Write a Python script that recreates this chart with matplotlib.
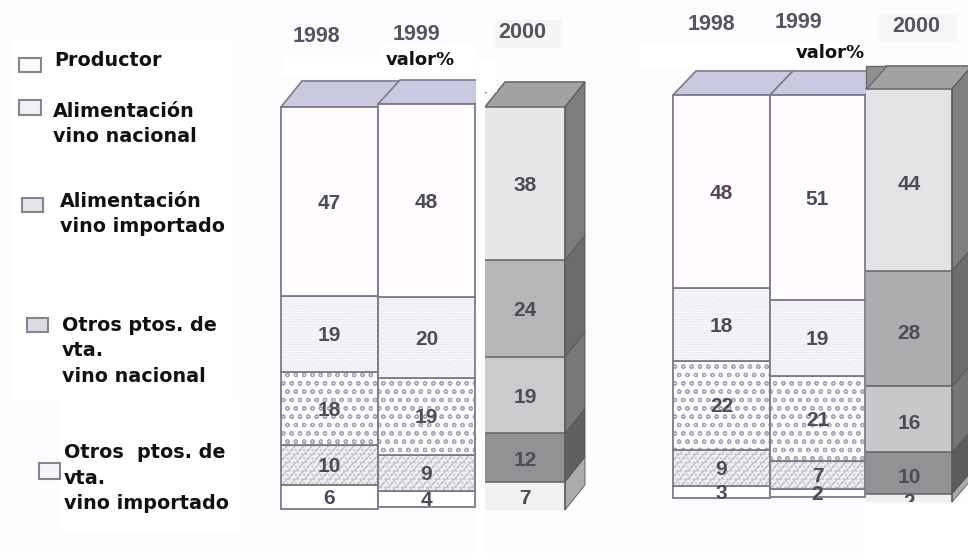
import matplotlib
matplotlib.use("Agg")
import matplotlib.pyplot as plt
from matplotlib.patches import Polygon, Rectangle

# ---- data -------------------------------------------------------------
categories = ["Productor", "Alimentación\nvino nacional", "Alimentación\nvino importado",
              "Otros ptos. de\nvta.\nvino nacional", "Otros  ptos. de\nvta.\nvino importado"]
years = ["1998", "1999", "2000"]
title_label = "valor%"

left_1998 = [47, 19, 18, 10, 6]
left_1999 = [48, 20, 19, 9, 4]
left_2000 = [38, 24, 19, 12, 7]
right_1998 = [48, 18, 22, 9, 3]
right_1999 = [51, 19, 21, 7, 2]
right_2000 = [44, 28, 16, 10, 2]

# ---- style ------------------------------------------------------------
W, H = 968, 553
BG = "#fefbfe"
EDGE = "#7b7b88"
TXT = "#4c4c54"
pale_styles = [
    dict(color="#fffbff", hatch=None, hc="#fffbff"),
    dict(color="#f8f8fb", hatch="......", hc="#e4e4ea"),
    dict(color="#fcfcfe", hatch="oo", hc="#a8a8b3"),
    dict(color="#f1f1f4", hatch="////....", hc="#c2c2c9"),
    dict(color="#ffffff", hatch=None, hc="#ffffff"),
]
left_greys = ["#e7e7e9", "#b6b6b8", "#cbcbcd", "#929294", "#f1f1f1"]
right_greys = ["#e3e3e5", "#adadaf", "#c8c8ca", "#929294", "#efefef"]
left_sides = ["#7d7d7d", "#6c6c6c", "#797979", "#606060", "#ababab"]
right_sides = ["#808080", "#6c6c6c", "#757575", "#5c5c5c", "#ababab"]

plt.rcParams["font.family"] = ["Liberation Sans", "DejaVu Sans"]
plt.rcParams["hatch.linewidth"] = 0.9

fig = plt.figure(figsize=(W / 100, H / 100), dpi=100, facecolor=BG)


def fx(x):
    return x / W


def fy(y):
    return 1 - y / H


def cover(x0, y0, x1, y1, color="white", z=5):
    fig.add_artist(Rectangle((fx(x0), fy(y1)), (x1 - x0) / W, (y1 - y0) / H,
                             transform=fig.transFigure, facecolor=color,
                             edgecolor="none", zorder=z))


def make_ax(x0, x1, top, bottom, z=1):
    ax = fig.add_axes([fx(x0), fy(bottom), (x1 - x0) / W, (bottom - top) / H], zorder=z)
    ax.set_xlim(0, 1)
    ax.set_ylim(0, 100)
    ax.axis("off")
    return ax


def pale_bar(values, x0, x1, top, bottom, dx, dy):
    ax = make_ax(x0, x1, top, bottom)
    ux, uy = dx / (x1 - x0), dy / (bottom - top) * 100
    ax.add_patch(Polygon([(0, 100), (1, 100), (1 + ux, 100 + uy), (ux, 100 + uy)],
                         closed=True, facecolor="#cac9e2", edgecolor=EDGE, lw=1.2, clip_on=False))
    base = 0
    for v, st in reversed(list(zip(values, pale_styles))):
        ax.bar(0.5, v, 1, bottom=base, color=st["color"], edgecolor=st["hc"], hatch=st["hatch"], lw=0)
        ax.bar(0.5, v, 1, bottom=base, fill=False, edgecolor=EDGE, lw=1.3, clip_on=False)
        ax.text(0.5, base + v / 2 - 0.4, str(v), ha="center", va="center", fontsize=15,
                fontweight="bold", color=TXT, clip_on=False, zorder=6)
        base += v
    return ax


def grey_bar(values, greys, sides, x0, x1, top, bottom, dx, dy, shift, clip_text=False):
    ax = make_ax(x0, x1, top, bottom, z=2)
    ux, uy = dx / (x1 - x0), dy / (bottom - top) * 100
    ax.add_patch(Polygon([(0, 100), (1, 100), (1 + ux, 100 + uy), (ux, 100 + uy)],
                         closed=True, facecolor="#a2a2a2", edgecolor="#6a6a6a", lw=1.2, clip_on=False))
    base = 0
    for v, c, s in reversed(list(zip(values, greys, sides))):
        ax.bar(0.5, v, 1, bottom=base, color=c, lw=0)
        ax.add_patch(Polygon([(1, base), (1 + ux, base + uy), (1 + ux, base + v + uy), (1, base + v)],
                             closed=True, facecolor=s, edgecolor="#555555", lw=0.6, clip_on=False))
        ax.hlines(base + v, 0, 1, color="#626266", lw=1.1)
        ax.text(0.5, base + v / 2 + shift, str(v), ha="center", va="center", fontsize=15,
                fontweight="bold", color=TXT, clip_on=clip_text and base == 0, zorder=6)
        base += v
    ax.vlines(1, 0, 100, color="#5a5a5a", lw=1.1, clip_on=False)
    return ax


# ---- pale background patches -------------------------------------------
cover(12, 40, 232, 400)
cover(60, 400, 240, 530)
cover(640, 42, 860, 68)
cover(282, 57, 475, 77)
cover(381, 45, 475, 57)
cover(495, 20, 562, 48, "#f5f5f5")
cover(878, 14, 957, 42, "#f6f6f6")

# ---- bars --------------------------------------------------------------
pale_bar(left_1998, 281, 378, 107, 509, 21, 26)
pale_bar(left_1999, 378, 475, 104, 507, 22, 24)
grey_bar(left_2000, left_greys, left_sides, 485, 565, 107, 510, 20, 25, -0.6)
pale_bar(right_1998, 673, 770, 95, 498, 23, 24)
pale_bar(right_1999, 770, 865, 95, 497, 23, 24)
ax_r = grey_bar(right_2000, right_greys, right_sides, 866, 952, 89, 502, 20, 23, -1.1, clip_text=True)
ax_r.add_patch(Polygon([(0, 100), (0, 105.6), (0.23, 105.6)], closed=True, facecolor="#8f8f8f",
                       edgecolor="#6a6a6a", lw=1, clip_on=False))

# covers that trim the bars like the pasted-together original
cover(476, 77, 485, 553)
cover(476, 60, 497, 92)
cover(864, 504, 968, 553)

# ---- year labels -------------------------------------------------------
year_pos = [(316, 36), (416, 34), (522, 32), (711, 24), (798, 23), (916, 26)]
for lab, (x, y) in zip(years * 2, year_pos):
    fig.text(fx(x), fy(y), lab, ha="center", va="center", fontsize=15.5, fontweight="bold",
             color="#55555d", zorder=10)
for x, y in [(420, 60), (830, 53)]:
    fig.text(fx(x), fy(y), title_label, ha="center", va="center", fontsize=13,
             fontweight="bold", color="#111111", zorder=10, family="DejaVu Sans")

# ---- legend ------------------------------------------------------------
legend_text = [(54, 60), (53, 124), (60, 214), (62, 351), (64, 478)]
legend_box = [(19, 58, 41, 72), (19, 100, 41, 115), (22, 198, 43, 212), (27, 318, 48, 332), (39, 463, 60, 479)]
legend_face = ["#fbfbfd", "#f1f1f5", "#e4e4ea", "#dcdce2", "#f5f5f8"]
for lab, (x, y), (a, b, c, d), col in zip(categories, legend_text, legend_box, legend_face):
    fig.text(fx(x), fy(y), lab, ha="left", va="center", fontsize=13.8, fontweight="bold",
             color="#111111", linespacing=1.46, zorder=10, family="DejaVu Sans")
    fig.add_artist(Rectangle((fx(a), fy(d)), (c - a) / W, (d - b) / H, transform=fig.transFigure,
                             facecolor=col, edgecolor="#85858f", lw=1.5, zorder=10))

fig.savefig("out.png", dpi=100, facecolor=fig.get_facecolor())
